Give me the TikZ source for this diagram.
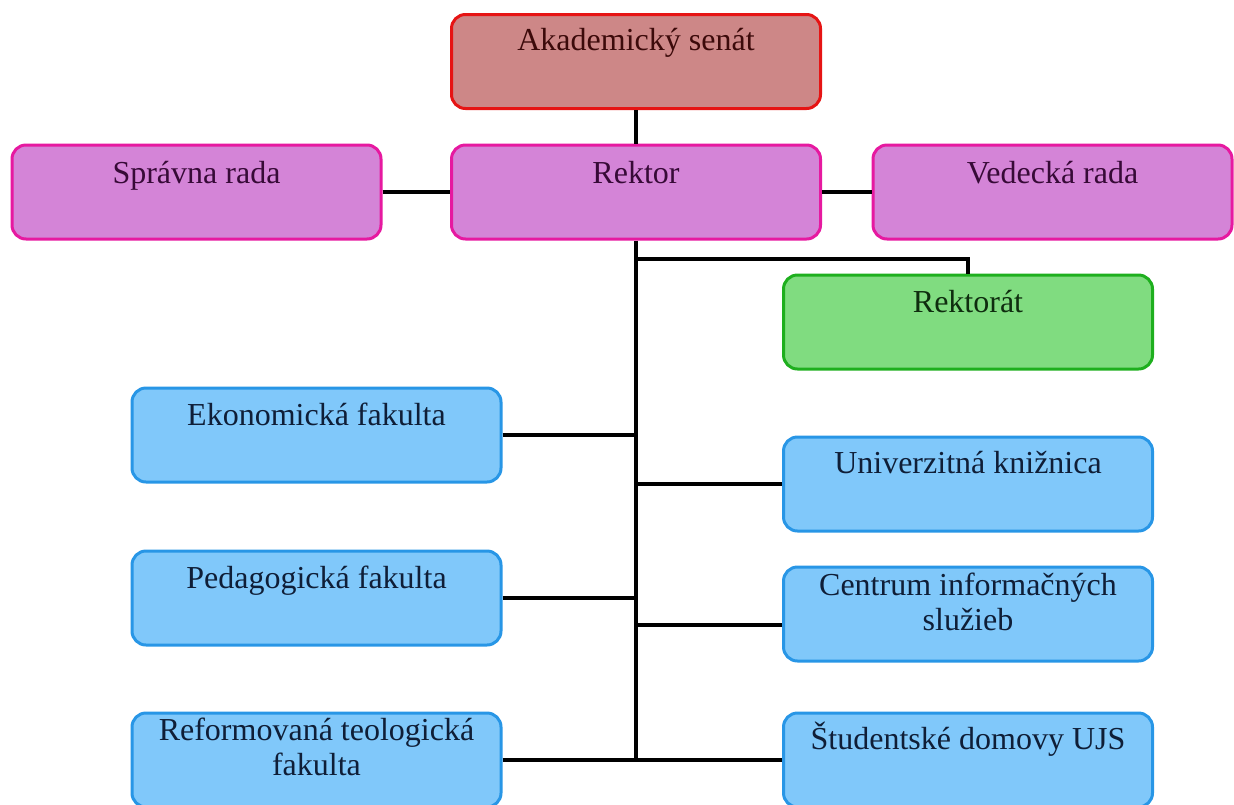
\documentclass[tikz,border=0pt]{standalone}
\usepackage{fontspec}
\setmainfont{Liberation Serif}
\definecolor{senfill}{RGB}{205,135,135}
\definecolor{sendraw}{RGB}{230,20,20}
\definecolor{sentext}{RGB}{60,10,10}
\definecolor{magfill}{RGB}{212,132,215}
\definecolor{magdraw}{RGB}{230,25,160}
\definecolor{magtext}{RGB}{55,10,55}
\definecolor{grnfill}{RGB}{128,220,128}
\definecolor{grndraw}{RGB}{30,175,30}
\definecolor{grntext}{RGB}{15,45,15}
\definecolor{blufill}{RGB}{128,200,250}
\definecolor{bludraw}{RGB}{40,150,230}
\definecolor{blutext}{RGB}{15,30,55}
\tikzset{
  orgbox/.style={rectangle, rounded corners=14pt, line width=3pt, minimum height=94pt, minimum width=369pt, inner sep=0pt},
  senbox/.style={orgbox, fill=senfill, draw=sendraw},
  magbox/.style={orgbox, fill=magfill, draw=magdraw},
  grnbox/.style={orgbox, fill=grnfill, draw=grndraw},
  blubox/.style={orgbox, fill=blufill, draw=bludraw},
  lbl/.style={anchor=base, inner sep=0pt, align=center, font=\fontsize{32}{35}\selectfont},
  conn/.style={line width=4.5pt, black}
}
\begin{document}
\begin{tikzpicture}[x=1pt,y=-1pt]
\useasboundingbox (0,0) rectangle (1234,804);
\clip (0,0) rectangle (1234,804);
\node[senbox] (senat) at (636,61.5) {};
\node[magbox] (sprav) at (196.5,192) {};
\node[magbox] (rektor) at (636,192) {};
\node[magbox, minimum width=359pt] (vedecka) at (1052.5,192) {};
\node[grnbox] (rektorat) at (968,322) {};
\node[blubox] (ekon) at (316.5,435) {};
\node[blubox] (univ) at (968,484) {};
\node[blubox] (pedag) at (316.5,598) {};
\node[blubox] (centrum) at (968,614) {};
\node[blubox] (reform) at (316.5,760) {};
\node[blubox] (stud) at (968,760) {};

\coordinate (rk) at (636,259);
\coordinate (bottom) at (rektor.south |- reform.east);
\draw[conn] (senat.south) -- (rektor.north);
\draw[conn] (sprav.east) -- (rektor.west);
\draw[conn] (rektor.east) -- (vedecka.west);
\draw[conn] (rektor.south) -- (bottom);
\draw[conn] (rk) -| (rektorat.north);
\draw[conn] (ekon.east) -- (ekon.east -| rektor.south);
\draw[conn] (univ.west) -- (univ.west -| rektor.south);
\draw[conn] (pedag.east) -- (pedag.east -| rektor.south);
\draw[conn] ([yshift=-11pt]centrum.west) -- ([yshift=-11pt]centrum.west -| rektor.south);
\draw[conn] (reform.east) -- (stud.west);

\node[lbl, text=sentext] (tsenat) at (636,50) {Akademický senát};
\node[lbl, text=magtext] (tsprav) at (196.5,183) {Správna rada};
\node[lbl, text=magtext] (trektor) at (636,183) {Rektor};
\node[lbl, text=magtext] (tvedecka) at (1052.5,183) {Vedecká rada};
\node[lbl, text=grntext] (trektorat) at (968,312) {Rektorát};
\node[lbl, text=blutext] (tekon) at (316.5,425) {Ekonomická fakulta};
\node[lbl, text=blutext] (tuniv) at (968,473) {Univerzitná knižnica};
\node[lbl, text=blutext] (tpedag) at (316.5,588) {Pedagogická fakulta};
\node[lbl, text=blutext] (tcentrum) at (968,630) {Centrum informačných\\služieb};
\node[lbl, text=blutext] (treform) at (316.5,775) {Reformovaná teologická\\fakulta};
\node[lbl, text=blutext] (tstud) at (968,749) {Študentské domovy UJS};
\end{tikzpicture}
\end{document}
